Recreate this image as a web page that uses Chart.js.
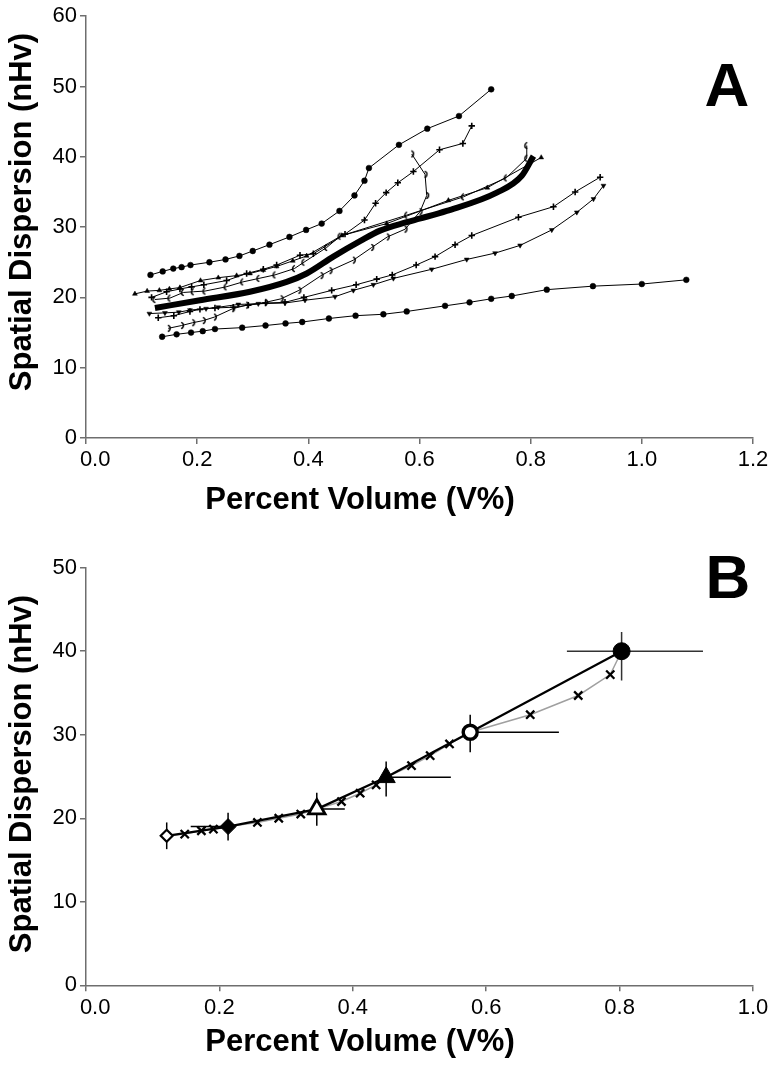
<!DOCTYPE html>
<html><head><meta charset="utf-8">
<script src="https://cdn.jsdelivr.net/npm/chart.js@4.4.1/dist/chart.umd.min.js"></script>
<style>
html,body{margin:0;padding:0;background:#fff;}
#wrap{position:relative;width:775px;height:1072px;overflow:hidden;}
.box{position:absolute;left:0;width:775px;}
</style></head><body>
<div id="wrap">
 <div class="box" style="top:0;height:530px"><canvas id="ca"></canvas></div>
 <div class="box" style="top:530px;height:542px"><canvas id="cb"></canvas></div>
</div>
<script>
// ---------- texts ----------
const xTitle = 'Percent Volume (V%)';
const yTitle = 'Spatial Dispersion (nHv)';
const panelA = 'A';
const panelB = 'B';

// ---------- panel A axes ----------
const aXTicks = [0.0, 0.2, 0.4, 0.6, 0.8, 1.0, 1.2];
const aYTicks = [0, 10, 20, 30, 40, 50, 60];

// ---------- panel A series ----------
const aDotTopX = [0.116,0.138,0.157,0.172,0.188,0.222,0.251,0.276,0.300,0.330,0.366,0.396,0.424,0.456,0.483,0.501,0.509,0.563,0.614,0.671,0.729];
const aDotTopY = [23.2,23.7,24.1,24.3,24.6,25.0,25.4,25.9,26.6,27.5,28.6,29.6,30.5,32.3,34.5,36.6,38.4,41.7,44.0,45.8,49.6];

const aDotLowX = [0.137,0.163,0.189,0.210,0.232,0.281,0.323,0.359,0.389,0.437,0.485,0.535,0.577,0.646,0.690,0.729,0.766,0.829,0.912,1.000,1.080];
const aDotLowY = [14.4,14.75,15.0,15.2,15.5,15.7,16.0,16.3,16.5,17.0,17.4,17.6,18.0,18.8,19.3,19.8,20.2,21.1,21.6,21.9,22.5];

const aTriX = [0.088,0.110,0.132,0.150,0.169,0.206,0.238,0.271,0.295,0.319,0.343,0.372,0.397,0.460,0.541,0.652,0.722,0.819];
const aTriY = [20.5,20.9,21.0,21.2,21.4,22.4,22.8,23.1,23.4,23.9,24.4,25.2,25.9,28.8,30.5,33.8,35.6,39.9];

const aOpenCX = [0.124,0.151,0.175,0.193,0.214,0.252,0.282,0.311,0.340,0.375,0.392,0.433,0.457,0.577,0.679,0.756,0.793,0.793];
const aOpenCY = [19.7,19.9,20.7,20.8,20.9,21.5,22.2,22.7,23.2,24.1,25.0,27.1,28.7,31.7,34.3,37.0,39.8,41.6];

const aCloseCX = [0.148,0.172,0.192,0.211,0.231,0.264,0.289,0.323,0.351,0.383,0.423,0.439,0.481,0.514,0.542,0.574,0.601,0.613,0.610,0.586];
const aCloseCY = [15.6,16.0,16.4,16.7,17.2,18.4,18.9,19.3,19.8,21.0,23.1,23.8,25.3,27.1,28.6,29.7,32.2,34.5,37.5,40.4];

const aPlusUpX = [0.118,0.145,0.169,0.190,0.212,0.253,0.289,0.319,0.343,0.385,0.409,0.466,0.501,0.521,0.540,0.561,0.589,0.636,0.678,0.694];
const aPlusUpY = [20.0,20.8,21.2,21.5,21.8,22.4,23.4,24.0,24.6,26.0,26.2,29.0,31.0,33.4,34.9,36.3,37.9,41.0,41.9,44.4];

const aPlusLowX = [0.130,0.158,0.187,0.205,0.232,0.265,0.292,0.323,0.358,0.392,0.442,0.486,0.523,0.551,0.594,0.628,0.664,0.694,0.778,0.841,0.880,0.925];
const aPlusLowY = [17.1,17.4,18.0,18.3,18.5,18.6,18.9,19.2,19.3,20.0,21.0,21.8,22.6,23.2,24.6,25.8,27.5,28.8,31.4,32.9,35.0,37.1];

const aDownX = [0.114,0.142,0.167,0.187,0.216,0.238,0.274,0.310,0.358,0.394,0.448,0.481,0.517,0.553,0.622,0.685,0.736,0.781,0.838,0.883,0.913,0.931];
const aDownY = [17.7,17.8,17.9,18.2,18.4,18.6,19.0,19.1,19.2,19.6,20.1,21.0,21.8,22.7,24.0,25.4,26.3,27.4,29.6,32.1,34.0,35.9];

const aMeanX = [0.124,0.205,0.295,0.361,0.397,0.445,0.493,0.529,0.577,0.600,0.649,0.739,0.784,0.805];
const aMeanY = [18.5,19.6,20.8,22.2,23.4,25.8,28.0,29.5,30.7,31.2,32.3,34.9,37.3,40.1];

// ---------- panel B axes ----------
const bXTicks = [0.0, 0.2, 0.4, 0.6, 0.8, 1.0];
const bYTicks = [0, 10, 20, 30, 40, 50];

// ---------- panel B series ----------
const bKeyX = [0.121,0.213,0.346,0.450,0.576,0.803];
const bKeyY = [17.9,19.0,21.1,24.9,30.3,40.0];
const bErrXMinus = [0,0.056,0,0,0,0.082];
const bErrXPlus  = [0,0,0.042,0.097,0.133,0.122];
const bErrYMinus = [1.6,1.65,2.0,2.3,2.4,3.5];
const bErrYPlus  = [1.6,1.65,1.95,1.9,2.1,2.3];

const bMeanX = [0.121,0.148,0.173,0.191,0.213,0.257,0.289,0.322,0.346,0.383,0.411,0.435,0.450,0.488,0.516,0.545,0.576,0.666,0.738,0.786,0.803];
const bMeanY = [17.9,18.1,18.5,18.7,19.0,19.5,20.0,20.5,21.1,22.0,23.0,24.0,24.9,26.3,27.5,28.9,30.3,32.4,34.7,37.2,40.0];

// ---------- helpers ----------
const pts = (xs, ys) => xs.map((v, i) => ({x: v, y: ys[i]}));
const FONT = "'Liberation Sans', Arial, sans-serif";
const AXIS_COLOR = '#6e6e6e';

function crescent(openRight) {
  const c = document.createElement('canvas');
  c.width = 9; c.height = 9;
  const g = c.getContext('2d');
  g.strokeStyle = '#000'; g.lineWidth = 1.5;
  g.beginPath();
  if (openRight) g.arc(6, 4.5, 3.3, Math.PI * 0.6, Math.PI * 1.4);
  else g.arc(3, 4.5, 3.3, -Math.PI * 0.4, Math.PI * 0.4);
  g.stroke();
  return c;
}
const openC = crescent(true);
const closeC = crescent(false);

const textPlugin = {
  id: 'texts',
  afterDraw(chart, args, opts) {
    const ctx = chart.ctx;
    (opts.items || []).forEach(it => {
      ctx.save();
      ctx.font = it.font; ctx.fillStyle = '#000';
      ctx.textAlign = 'center'; ctx.textBaseline = 'middle';
      ctx.translate(it.x, it.y);
      if (it.rot) ctx.rotate(it.rot);
      ctx.fillText(it.text, 0, 0);
      ctx.restore();
    });
  }
};

const errorBarPlugin = {
  id: 'errbars',
  beforeDatasetDraw(chart, args) {
    if (args.index !== 0) return;
    const {ctx, scales: {x, y}} = chart;
    ctx.save();
    ctx.lineWidth = 1.5; ctx.lineCap = 'butt';
    bKeyX.forEach((vx, i) => {
      const vy = bKeyY[i];
      const px = x.getPixelForValue(vx), py = y.getPixelForValue(vy);
      ctx.strokeStyle = i === bKeyX.length - 1 ? '#333' : '#000';
      ctx.beginPath();
      ctx.moveTo(px, y.getPixelForValue(vy + bErrYPlus[i]));
      ctx.lineTo(px, y.getPixelForValue(vy - bErrYMinus[i]));
      if (bErrXMinus[i]) { ctx.moveTo(x.getPixelForValue(vx - bErrXMinus[i]), py); ctx.lineTo(px, py); }
      if (bErrXPlus[i]) { ctx.moveTo(px, py); ctx.lineTo(x.getPixelForValue(vx + bErrXPlus[i]), py); }
      ctx.stroke();
    });
    ctx.restore();
  }
};

function scales(xTicks, yTicks, xAxisH) {
  return {
    x: {
      type: 'linear', min: xTicks[0], max: xTicks[xTicks.length - 1],
      afterBuildTicks: s => { s.ticks = xTicks.map(v => ({value: v})); },
      afterFit: s => { s.height = xAxisH; },
      border: {display: true, color: AXIS_COLOR, width: 1.5},
      grid: {display: true, drawOnChartArea: false, drawTicks: true, tickLength: 6, color: AXIS_COLOR, lineWidth: 1.5},
      ticks: {color: '#000', font: {family: FONT, size: 22}, padding: 3, maxRotation: 0,
              callback: v => (v === 0 ? '   ' : '') + Number(v).toFixed(1)}
    },
    y: {
      type: 'linear', min: yTicks[0], max: yTicks[yTicks.length - 1],
      afterBuildTicks: s => { s.ticks = yTicks.map(v => ({value: v})); },
      afterFit: s => { s.width = 86; },
      border: {display: true, color: AXIS_COLOR, width: 1.5},
      grid: {display: true, drawOnChartArea: false, drawTicks: true, tickLength: 6, color: AXIS_COLOR, lineWidth: 1.5},
      ticks: {color: '#000', font: {family: FONT, size: 22}, padding: 3, callback: v => String(v)}
    }
  };
}

const baseLine = {showLine: true, borderColor: '#000', borderWidth: 1, pointBackgroundColor: '#000', pointBorderColor: '#000', tension: 0};

// ---------- chart A ----------
new Chart(document.getElementById('ca'), {
  type: 'scatter',
  data: {datasets: [
    Object.assign({}, baseLine, {data: pts(aMeanX, aMeanY), borderWidth: 6, pointRadius: 0, borderJoinStyle: 'round', cubicInterpolationMode: 'monotone', tension: 0.3}),
    Object.assign({}, baseLine, {data: pts(aDotTopX, aDotTopY), pointStyle: 'circle', pointRadius: 2.9, pointBorderWidth: 0.5}),
    Object.assign({}, baseLine, {data: pts(aDotLowX, aDotLowY), pointStyle: 'circle', pointRadius: 2.9, pointBorderWidth: 0.5}),
    Object.assign({}, baseLine, {data: pts(aTriX, aTriY), pointStyle: 'triangle', pointRadius: 2.8, pointBorderWidth: 0.5}),
    Object.assign({}, baseLine, {data: pts(aOpenCX, aOpenCY), pointStyle: openC}),
    Object.assign({}, baseLine, {data: pts(aCloseCX, aCloseCY), pointStyle: closeC}),
    Object.assign({}, baseLine, {data: pts(aPlusUpX, aPlusUpY), pointStyle: 'cross', pointRadius: 3.2, pointBorderWidth: 1.6}),
    Object.assign({}, baseLine, {data: pts(aPlusLowX, aPlusLowY), pointStyle: 'cross', pointRadius: 3.2, pointBorderWidth: 1.6}),
    Object.assign({}, baseLine, {data: pts(aDownX, aDownY), pointStyle: 'triangle', rotation: 180, pointRadius: 2.8, pointBorderWidth: 0.5})
  ]},
  options: {
    responsive: true, maintainAspectRatio: false, animation: false, devicePixelRatio: 1,
    layout: {padding: {top: 15, right: 22, left: 0, bottom: 0}},
    scales: scales(aXTicks, aYTicks, 92),
    plugins: {legend: {display: false}, tooltip: {enabled: false},
      texts: {items: [
        {text: xTitle, x: 360, y: 500, font: `bold 31px ${FONT}`},
        {text: yTitle, x: 22, y: 212, rot: -Math.PI / 2, font: `bold 31px ${FONT}`},
        {text: panelA, x: 727, y: 89, font: `bold 62px ${FONT}`}
      ]}}
  },
  plugins: [textPlugin]
});

// ---------- chart B ----------
new Chart(document.getElementById('cb'), {
  type: 'scatter',
  data: {datasets: [
    {data: pts(bKeyX, bKeyY), showLine: true, borderColor: '#000', borderWidth: 2.2, tension: 0,
     pointStyle: ['rectRot', 'rectRot', 'triangle', 'triangle', 'circle', 'circle'],
     pointRadius: [6, 8, 9.5, 10.5, 7, 8.5],
     pointBackgroundColor: ['#fff', '#000', '#fff', '#000', '#fff', '#000'],
     pointBorderColor: '#000',
     pointBorderWidth: [2.2, 1, 2.8, 1, 3.4, 1]},
    {data: pts(bMeanX, bMeanY), showLine: true, borderColor: '#a0a0a0', borderWidth: 1.5, tension: 0,
     pointStyle: 'crossRot', pointBorderColor: '#000', pointBorderWidth: 2.3,
     pointRadius: c => bKeyX.includes(bMeanX[c.dataIndex]) ? 0 : 5.8}
  ]},
  options: {
    responsive: true, maintainAspectRatio: false, animation: false, devicePixelRatio: 1,
    layout: {padding: {top: 37.7, right: 22, left: 0, bottom: 0}},
    scales: scales(bXTicks, bYTicks, 542 - 455.3),
    plugins: {legend: {display: false}, tooltip: {enabled: false},
      texts: {items: [
        {text: xTitle, x: 360, y: 512, font: `bold 31px ${FONT}`},
        {text: yTitle, x: 22, y: 244, rot: -Math.PI / 2, font: `bold 31px ${FONT}`},
        {text: panelB, x: 728, y: 51, font: `bold 62px ${FONT}`}
      ]}}
  },
  plugins: [errorBarPlugin, textPlugin]
});
</script>
</body></html>
